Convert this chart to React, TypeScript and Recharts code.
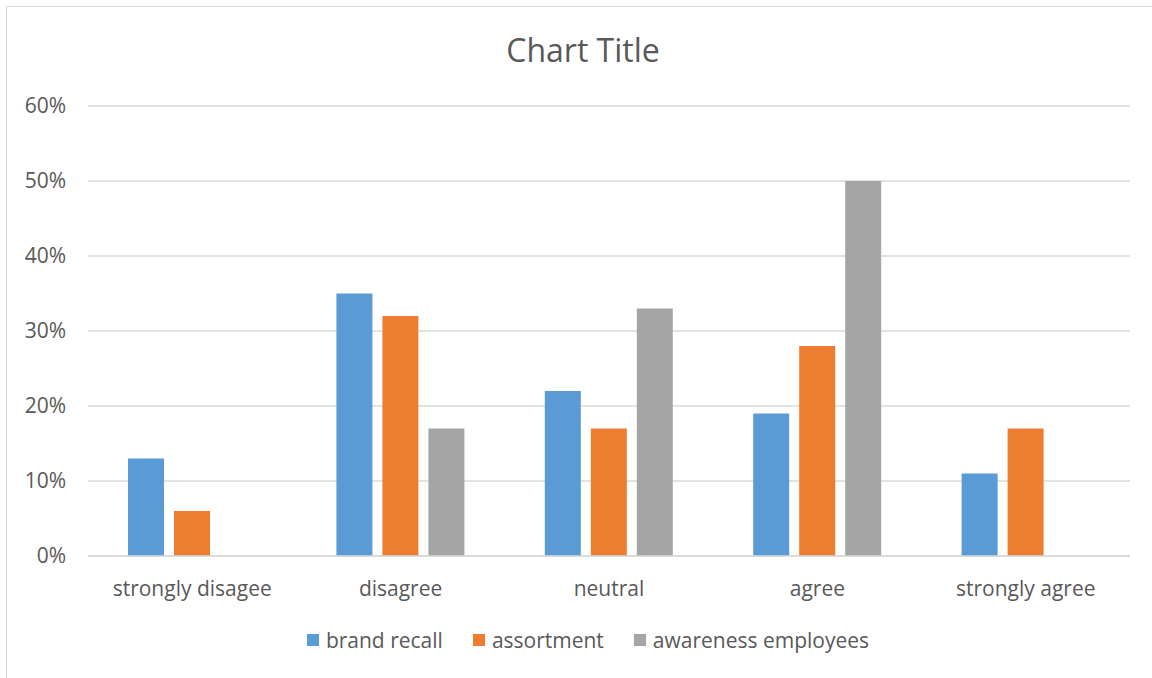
import React from "react";
import { BarChart, Bar, XAxis, YAxis, CartesianGrid } from "recharts";

const categories = ["strongly disagee", "disagree", "neutral", "agree", "strongly agree"];
const brandRecall = [0.13, 0.35, 0.22, 0.19, 0.11];
const assortment = [0.06, 0.32, 0.17, 0.28, 0.17];
const awarenessEmployees = [0, 0.17, 0.33, 0.5, 0];
const yTicks = [0, 0.1, 0.2, 0.3, 0.4, 0.5, 0.6];

const seriesInfo = [
  { key: "brandRecall", name: "brand recall", color: "#5B9BD5" },
  { key: "assortment", name: "assortment", color: "#ED7D31" },
  { key: "awarenessEmployees", name: "awareness employees", color: "#A5A5A5" },
];

const data = categories.map((c, i) => ({
  category: c,
  brandRecall: brandRecall[i],
  assortment: assortment[i],
  awarenessEmployees: awarenessEmployees[i],
}));

const FONT = "'Open Sans', sans-serif";
const TEXT = "#595959";

export default function App() {
  return (
    <div style={{ position: "absolute", left: 0, top: 0, width: 1152, height: 678, background: "#fff", overflow: "hidden" }}>
      <div
        style={{
          position: "absolute",
          left: 6,
          top: 6,
          width: 1200,
          height: 720,
          border: "1.5px solid #D9D9D9",
          boxSizing: "border-box",
        }}
      />
      <div
        style={{
          position: "absolute",
          left: 0,
          width: 1166,
          top: 30,
          textAlign: "center",
          fontFamily: FONT,
          fontSize: 32,
          color: TEXT,
          lineHeight: "40px",
        }}
      >
        Chart Title
      </div>
      <div style={{ position: "absolute", left: 0, top: 0 }}>
        <BarChart
          width={1152}
          height={678}
          data={data}
          margin={{ top: 106, right: 22, bottom: 92, left: 0 }}
          barCategoryGap="19.2%"
          barGap={10}
        >
          <CartesianGrid vertical={false} stroke="#D9D9D9" strokeWidth={1.5} />
          <XAxis
            dataKey="category"
            axisLine={{ stroke: "#D9D9D9", strokeWidth: 1.5 }}
            tickLine={false}
            tickMargin={19}
            height={30}
            interval={0}
            tick={{ fill: TEXT, fontFamily: FONT, fontSize: 21 }}
          />
          <YAxis
            width={88}
            domain={[0, 0.6]}
            ticks={yTicks}
            axisLine={false}
            tickLine={false}
            tickMargin={16}
            tickFormatter={(v: number) => `${Math.round(v * 100)}%`}
            tick={{ fill: TEXT, fontFamily: FONT, fontSize: 21 }}
          />
          {seriesInfo.map((s) => (
            <Bar key={s.key} dataKey={s.key} name={s.name} fill={s.color} isAnimationActive={false} />
          ))}
        </BarChart>
      </div>
      <div
        style={{
          position: "absolute",
          left: 0,
          top: 624,
          width: 1176,
          height: 32,
          display: "flex",
          justifyContent: "center",
          alignItems: "center",
          fontFamily: FONT,
          fontSize: 21,
          color: TEXT,
        }}
      >
        {seriesInfo.map((s) => (
          <div key={s.key} style={{ display: "flex", alignItems: "center", margin: "0 15px" }}>
            <span style={{ display: "inline-block", width: 12, height: 12, background: s.color, marginRight: 7 }} />
            <span>{s.name}</span>
          </div>
        ))}
      </div>
    </div>
  );
}
